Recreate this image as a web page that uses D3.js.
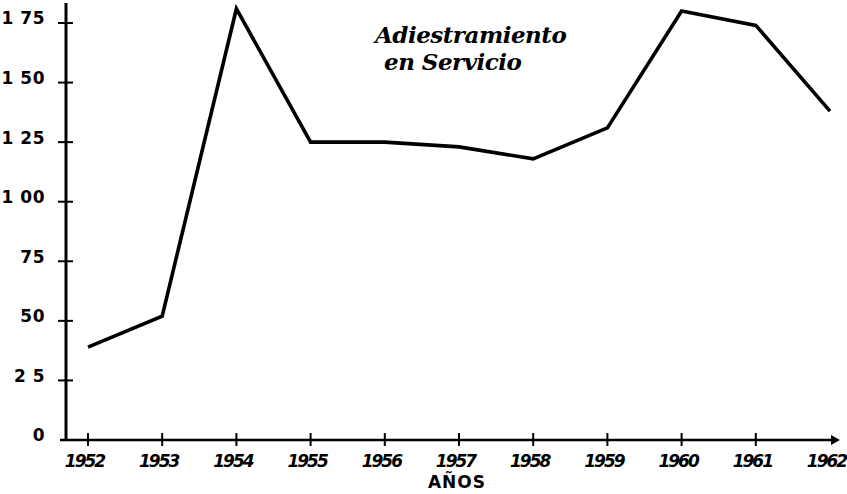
<!DOCTYPE html>
<html><head><meta charset="utf-8">
<script src="https://cdn.jsdelivr.net/npm/d3@7"></script>
<style>body{margin:0;background:#fff}svg{display:block}</style>
</head><body>
<svg id="c" width="847" height="494"></svg>
<script>
const years = [1952,1953,1954,1955,1956,1957,1958,1959,1960,1961,1962];
const values = [39,52,181,125,125,123,118,131,180,174,138];
const yTicks = [0,25,50,75,100,125,150,175];
const yTickLabels = ["0","2 5","50","75","1 00","1 25","1 50","1 75"];
const title = ["Adiestramiento","en Servicio"];
const xTitle = "AÑOS";

const svg = d3.select("#c");
const x = d3.scaleLinear().domain([1952,1962]).range([88,830]);
const y = d3.scaleLinear().domain([0,175]).range([440,23]);
const x0 = 66;

// axes
svg.append("line").attr("x1",x0).attr("x2",x0).attr("y1",3).attr("y2",y(0))
  .attr("stroke","#000").attr("stroke-width",3);
svg.append("line").attr("x1",x0-6).attr("x2",x(1962)+6).attr("y1",y(0)).attr("y2",y(0))
  .attr("stroke","#000").attr("stroke-width",2.5);
svg.append("path").attr("d",`M${x(1962)+10},${y(0)} l-9,-5 l0,10 z`).attr("fill","#000");

const yAxis = d3.axisLeft(y).tickValues(yTicks).tickSize(0).tickFormat((d,i)=>yTickLabels[i]);
const gy = svg.append("g").attr("transform",`translate(${x0},0)`).call(yAxis);
gy.select(".domain").remove();
gy.selectAll("text").attr("x",-21).attr("dy","0.05em")
  .style("font-family","'DejaVu Sans',sans-serif").style("font-weight","bold")
  .style("font-size","17px").style("letter-spacing","0.5px").attr("fill","#000");
svg.append("g").selectAll("line").data(yTicks.filter(d=>d>0)).join("line")
  .attr("x1",x0-8).attr("x2",x0+7).attr("y1",d=>y(d)).attr("y2",d=>y(d))
  .attr("stroke","#000").attr("stroke-width",2);

const xAxis = d3.axisBottom(x).tickValues(years).tickSize(0).tickFormat(d3.format("d"));
const gx = svg.append("g").attr("transform",`translate(0,${y(0)})`).call(xAxis);
gx.select(".domain").remove();
gx.selectAll("text").attr("x",-4).attr("y",15).attr("dy","0.71em")
  .style("font-family","'DejaVu Sans',sans-serif").style("font-weight","bold")
  .style("font-style","italic").style("font-size","17px").style("letter-spacing","-2px").attr("fill","#000");
svg.append("g").selectAll("line").data(years.slice(0,-1)).join("line")
  .attr("x1",d=>x(d)).attr("x2",d=>x(d)).attr("y1",y(0)-7).attr("y2",y(0)+6)
  .attr("stroke","#000").attr("stroke-width",2);

svg.append("text").attr("x",457).attr("y",488).attr("text-anchor","middle")
  .style("font-family","'DejaVu Sans',sans-serif").style("font-weight","bold")
  .style("font-size","17px").style("letter-spacing","1px").text(xTitle);

// line
svg.append("path").datum(years.map((d,i)=>[d,values[i]]))
  .attr("d",d3.line().x(d=>x(d[0])).y(d=>y(d[1])))
  .attr("fill","none").attr("stroke","#000").attr("stroke-width",3.6).attr("stroke-linejoin","miter");

// annotation
const t = svg.append("text").style("font-family","'DejaVu Serif',serif")
  .style("font-weight","bold").style("font-style","italic").style("font-size","23px")
  .style("letter-spacing","-0.5px").attr("fill","#000");
t.append("tspan").attr("x",375).attr("y",43).text(title[0]);
t.append("tspan").attr("x",384).attr("y",70).text(title[1]);
</script>
</body></html>
